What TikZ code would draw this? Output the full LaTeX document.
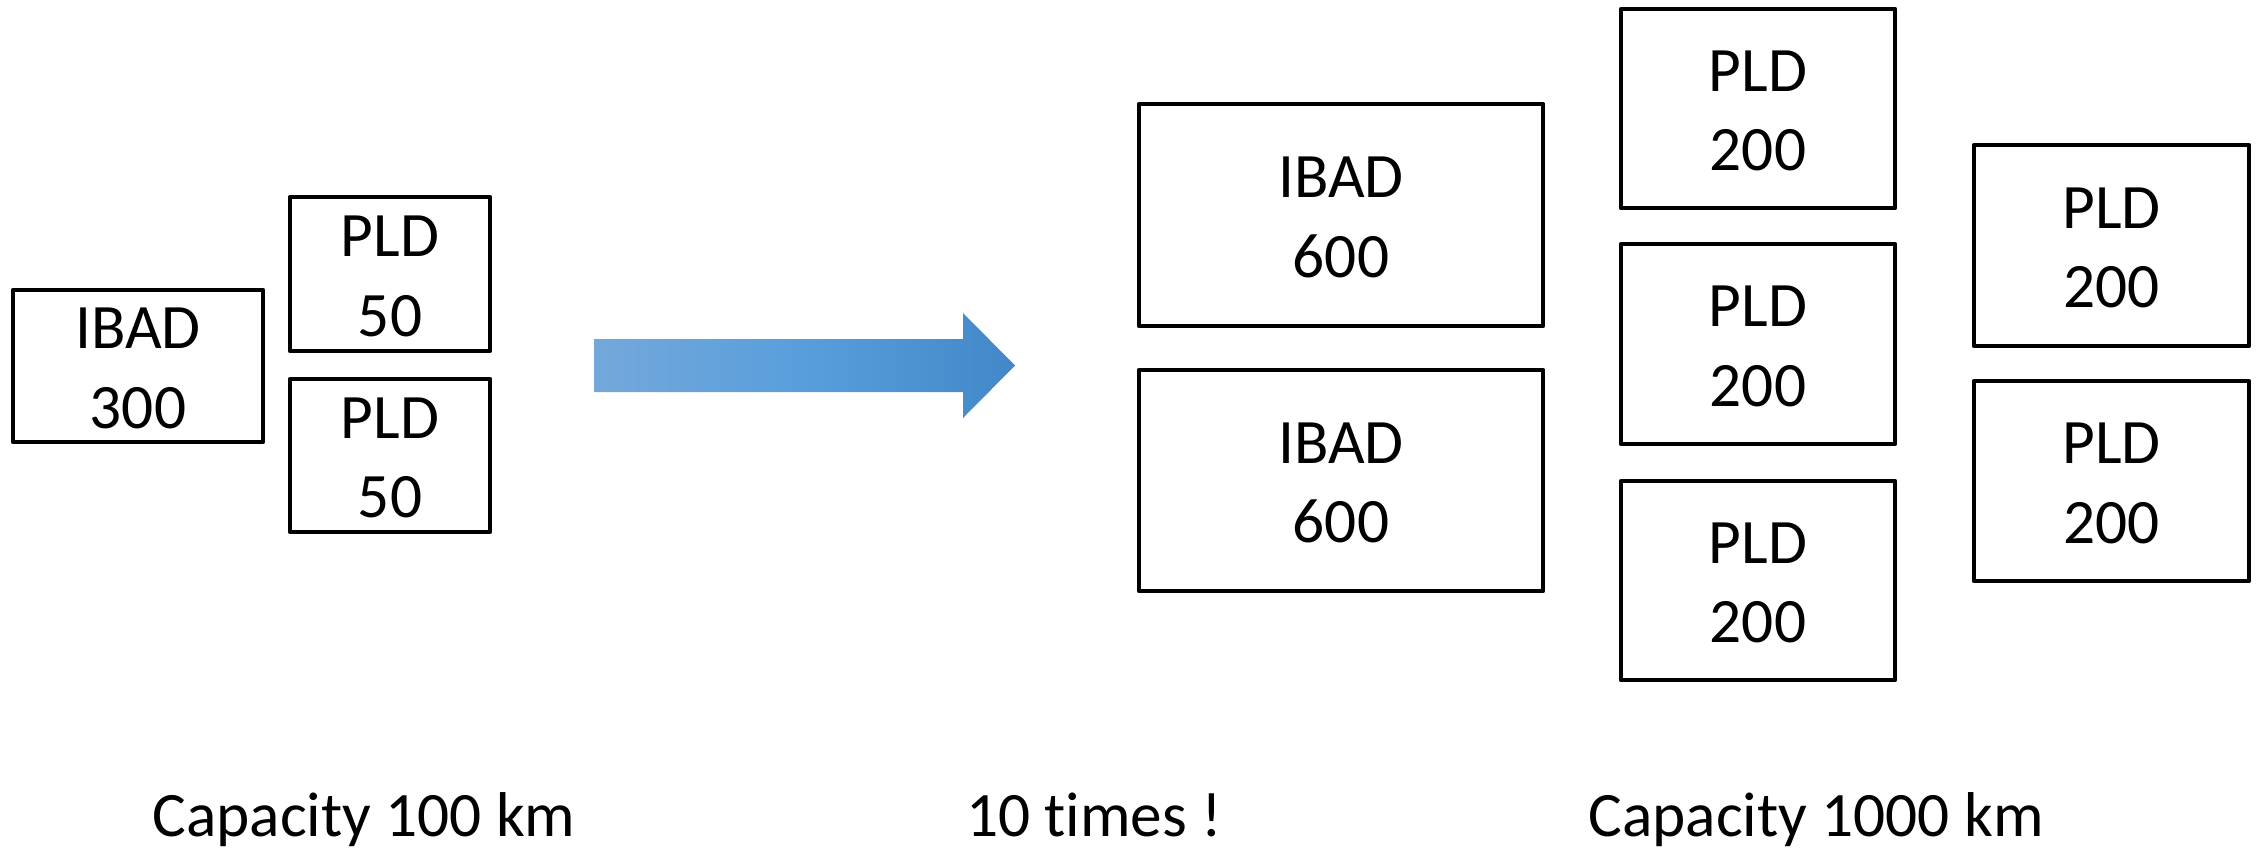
\documentclass[tikz,border=0pt]{standalone}
\usepackage{fontspec}
\setmainfont[Ligatures=NoCommon]{Carlito}
\definecolor{arrowL}{RGB}{116,168,219}
\definecolor{arrowM}{RGB}{88,158,219}
\definecolor{arrowR}{RGB}{66,136,200}
\tikzset{
  box/.style={draw=black, line width=0.045cm, line join=round, inner sep=0pt,
    align=center, font=\fontsize{18}{22.6}\selectfont},
  boxtext/.style={yshift=-0.025cm},
  caption/.style={anchor=base, inner sep=0pt, font=\fontsize{18}{22.6}\selectfont}
}
\newcommand{\bx}[5]{%
  \node[box, minimum width=#2, minimum height=#3] (#1) at #4 {};
  \node[align=center, inner sep=0pt, font=\fontsize{18}{22.6}\selectfont, yshift=-0.025cm] (#1t) at (#1.center) {#5};}
\begin{document}
\begin{tikzpicture}[x=0.01cm, y=-0.01cm]
\useasboundingbox (0,0) rectangle (2267,848);
% left group
\bx{ibadA}{2.50cm}{1.52cm}{(138,366)}{IBAD\\300}
\bx{pldA}{2.00cm}{1.54cm}{(390,274)}{PLD\\50}
\bx{pldB}{2.00cm}{1.53cm}{(390,455.5)}{PLD\\50}
% arrow
\shade[left color=arrowL, right color=arrowR, middle color=arrowM]
  (594,339) -- (963,339) -- (963,313) -- (1015,365.5) -- (963,418) -- (963,392) -- (594,392) -- cycle;
% right group
\bx{ibadB}{4.04cm}{2.22cm}{(1341,215)}{IBAD\\600}
\bx{ibadC}{4.04cm}{2.21cm}{(1341,480.5)}{IBAD\\600}
\bx{pldC}{2.74cm}{1.99cm}{(1758,108.5)}{PLD\\200}
\bx{pldD}{2.74cm}{2.00cm}{(1758,344)}{PLD\\200}
\bx{pldE}{2.74cm}{1.99cm}{(1758,580.5)}{PLD\\200}
\bx{pldF}{2.75cm}{2.01cm}{(2111.5,245.5)}{PLD\\200}
\bx{pldG}{2.75cm}{2.00cm}{(2111.5,481)}{PLD\\200}
% captions
\node[caption] (capA) at (364,836) {Capacity 100 km};
\node[caption] (capB) at (1094,836) {10 times !};
\node[caption] (capC) at (1816,836) {Capacity 1000 km};
\end{tikzpicture}
\end{document}
